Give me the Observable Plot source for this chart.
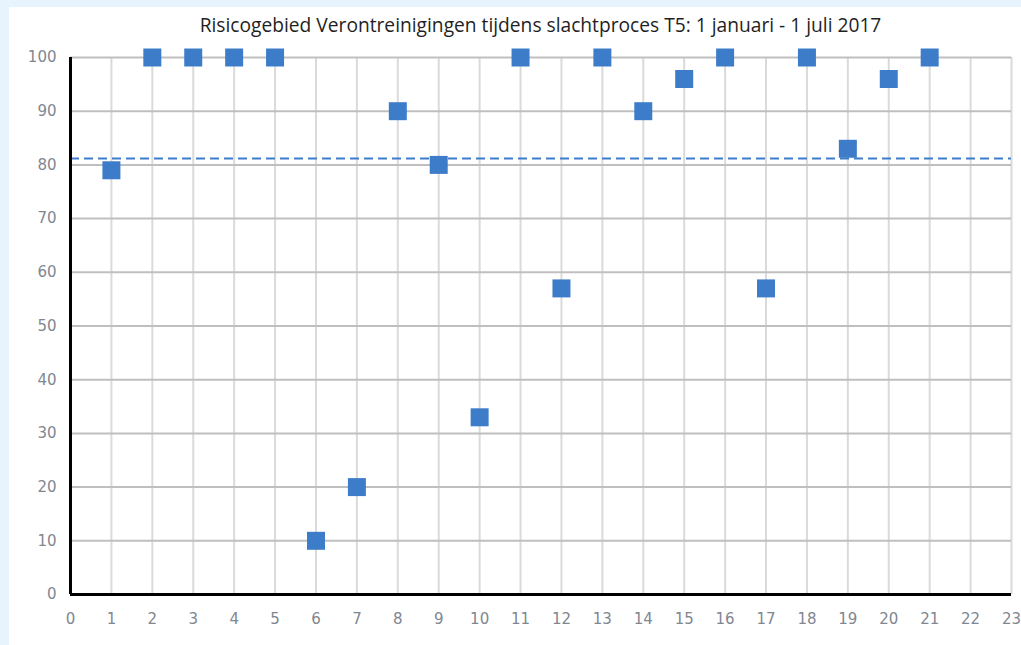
<!DOCTYPE html>
<html>
<head>
<meta charset="utf-8">
<script src="https://cdn.jsdelivr.net/npm/d3@7"></script>
<script src="https://cdn.jsdelivr.net/npm/@observablehq/plot@0.6"></script>
<style>
  html, body { margin: 0; padding: 0; background: #e8f4fd; width: 1021px; height: 645px; overflow: hidden; }
  #panel { position: absolute; left: 9px; top: 7px; width: 1012px; height: 638px; background: #ffffff; }
  #title { box-sizing: border-box; height: 35px; padding: 6px 10px 0 61px; text-align: center;
           font-family: "Open Sans", sans-serif; font-size: 19.2px; color: #1f1f1f; line-height: 24px; white-space: nowrap; }
  svg { display: block; }
</style>
</head>
<body>
<div id="panel">
  <div id="title">Risicogebied Verontreinigingen tijdens slachtproces T5: 1 januari - 1 juli 2017</div>
  <div id="chart"></div>
</div>
<script>
const titleText = "Risicogebied Verontreinigingen tijdens slachtproces T5: 1 januari - 1 juli 2017";
const weeks = [1, 2, 3, 4, 5, 6, 7, 8, 9, 10, 11, 12, 13, 14, 15, 16, 17, 18, 19, 20, 21];
const scores = [79, 100, 100, 100, 100, 10, 20, 90, 80, 33, 100, 57, 100, 90, 96, 100, 57, 100, 83, 96, 100];
const average = 81.2;
const xTicks = d3.range(0, 24);
const yTicks = [0, 10, 20, 30, 40, 50, 60, 70, 80, 90, 100];

const data = weeks.map((w, i) => ({ week: w, score: scores[i] }));

const chart = Plot.plot({
  width: 1012,
  height: 603,
  marginTop: 15,
  marginBottom: 51,
  marginLeft: 61,
  marginRight: 10,
  style: { fontFamily: "DejaVu Sans, sans-serif", fontSize: "15px", color: "#7f8791", background: "white", overflow: "visible" },
  x: { domain: [0, 23], ticks: xTicks, tickSize: 0, label: null },
  y: { domain: [0, 100], ticks: yTicks, tickSize: 0, label: null },
  marks: [
    Plot.ruleX(xTicks.filter(d => d > 0), { stroke: "#dadada", strokeWidth: 2 }),
    Plot.ruleY(yTicks.filter(d => d > 0), { stroke: "#bfbfbf", strokeWidth: 2 }),
    Plot.ruleY([average], { stroke: "#3d7cc9", strokeWidth: 2, strokeDasharray: "9,5" }),
    Plot.axisX({ ticks: xTicks, tickSize: 0, tickPadding: 19, fill: "#7f8791", fontSize: 15, label: null }),
    Plot.axisY({ ticks: yTicks, tickSize: 0, tickPadding: 14, fill: "#7f8791", fontSize: 15, label: null }),
    Plot.ruleY([0], { stroke: "#000", strokeWidth: 3 }),
    Plot.ruleX([0], { stroke: "#000", strokeWidth: 3 }),
    Plot.dot(data, { x: "week", y: "score", symbol: "square", r: 10.15, fill: "#3d7cc9", stroke: "none" })
  ]
});
document.getElementById("chart").appendChild(chart);
</script>
</body>
</html>
